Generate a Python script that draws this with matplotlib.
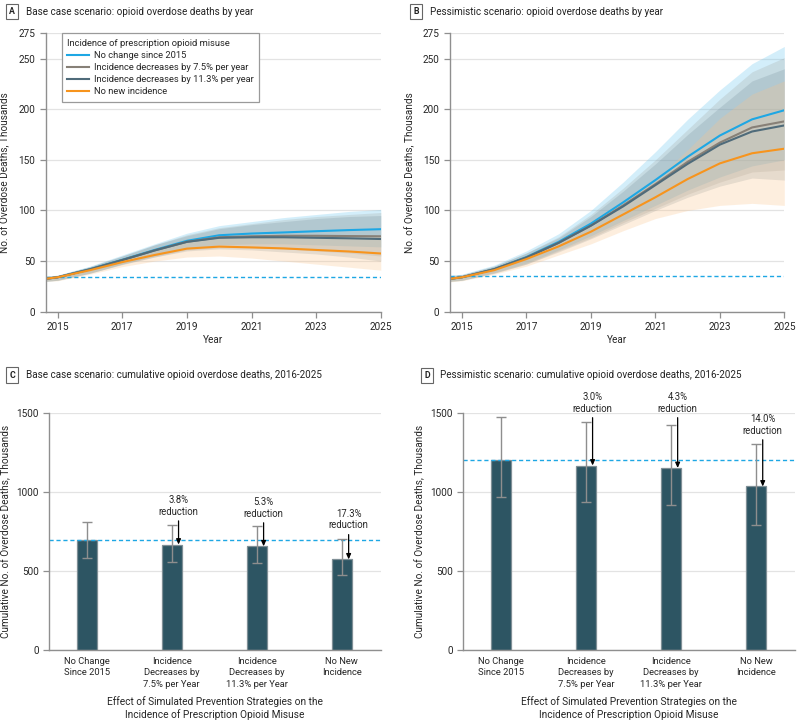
import matplotlib
matplotlib.use('Agg')
import matplotlib.pyplot as plt
from matplotlib.font_manager import FontProperties
from matplotlib.lines import Line2D

FAM = 'Roboto'
plt.rcParams['font.family'] = [FAM, 'DejaVu Sans']

# ---------------- data ----------------
years = [2014.63, 2015, 2016, 2017, 2018, 2019, 2020, 2021, 2022, 2023, 2024, 2025]
series_names = ['No change since 2015', 'Incidence decreases by 7.5% per year',
                'Incidence decreases by 11.3% per year', 'No new incidence']

# Panel A: base case, annual deaths (thousands)
a_none = [32.5, 34, 42, 51.3, 61, 70, 75.5, 77.2, 78.3, 79.5, 80.6, 81.5]
a_75 = [32.5, 34, 41.8, 51, 60.5, 69, 73.5, 74.5, 75, 75, 74.7, 74.5]
a_113 = [32.5, 34, 41.8, 51, 60.5, 69, 73, 73.5, 73.5, 73, 72.5, 71.8]
a_zero = [32.5, 34, 41, 49, 56, 62.3, 64.3, 63.5, 62.5, 61, 59.5, 57.5]
a_none_hi = [35, 36, 45, 56, 67, 77.5, 85, 89, 93, 96, 99, 101]
a_none_lo = [30, 31, 38, 47, 55, 62, 66, 67, 67, 66, 65, 64]
a_75_hi = [35, 36, 44.5, 55, 66, 76, 83, 87, 91, 94, 96, 98]
a_75_lo = [30, 31, 38, 47, 54, 61, 63, 63, 62, 60, 58, 55]
a_113_hi = [35, 36, 44.5, 55, 66, 75, 82, 86, 89, 92, 94, 95]
a_113_lo = [30, 31, 38, 46.5, 54, 60, 62, 61, 59, 57, 54, 50]
a_zero_hi = [34.5, 35.5, 43, 52, 62, 69, 73, 75, 76, 76, 76, 75]
a_zero_lo = [30, 30.5, 37, 44.5, 50, 54, 55, 53, 50, 47, 44, 41]
a_baseline = 34.3

# Panel B: pessimistic, annual deaths (thousands)
b_none = [32.5, 34, 42, 54, 69, 87, 108, 130, 153, 174, 190, 199]
b_75 = [32.5, 34, 42, 53.5, 68, 85, 105, 126, 148, 167, 182, 188]
b_113 = [32.5, 34, 42, 53.5, 68, 85, 104, 125, 146, 165, 178, 184]
b_zero = [32.5, 34, 41, 52, 64.5, 79, 96, 113, 131, 146.5, 156.5, 161]
b_none_hi = [36, 37, 46, 60, 77, 100, 128, 158, 190, 219, 245, 262]
b_none_lo = [30, 31, 38.5, 48, 61, 75, 90, 105, 120, 133, 144, 150]
b_75_hi = [35.5, 36.5, 45, 58, 74, 96, 122, 150, 180, 210, 237, 251]
b_75_lo = [30, 31, 38, 47, 60, 73, 88, 102, 116, 128, 138, 140]
b_113_hi = [35.5, 36.5, 45, 58, 73, 94, 119, 146, 175, 202, 228, 240]
b_113_lo = [30, 31, 38, 47, 59, 72, 86, 100, 113, 124, 132, 130]
b_zero_hi = [35, 36, 44, 56, 70, 88, 108, 130, 160, 191, 215, 228]
b_zero_lo = [29.5, 30.5, 37, 45, 56, 67, 80, 92, 100, 105, 107, 105]
b_baseline = 35.0

# Panels C, D: cumulative deaths 2016-2025 (thousands)
bar_labels = ['No Change\nSince 2015', 'Incidence\nDecreases by\n7.5% per Year',
              'Incidence\nDecreases by\n11.3% per Year', 'No New\nIncidence']
c_vals = [694, 668, 657, 574]
c_lo = [586, 555, 549, 475]
c_hi = [808, 789, 783, 703]
c_red = ['', '3.8%\nreduction', '5.3%\nreduction', '17.3%\nreduction']
c_red_y = [0, 913, 901, 826]
d_vals = [1205, 1169, 1153, 1036]
d_lo = [970, 937, 920, 795]
d_hi = [1475, 1445, 1428, 1308]
d_red = ['', '3.0%\nreduction', '4.3%\nreduction', '14.0%\nreduction']
d_red_y = [0, 1567, 1567, 1427]

# ---------------- style ----------------
BLUE = '#1ea7e4'
GRAY = '#878077'
SLATE = '#4f6b7a'
ORANGE = '#f7941d'
BAR = '#2d5563'
AXC = '#8f8f8f'
TXT = '#262626'

line_colors = [BLUE, GRAY, SLATE, ORANGE]
band_colors = ['#63c3ee', '#9a9890', '#6f8794', '#fbc48a']
band_alpha = [0.28, 0.22, 0.22, 0.28]

fig = plt.figure(figsize=(8, 7.21), dpi=100)
renderer = fig.canvas.get_renderer()


def fsize(s, target_px, base=10.0):
    fp = FontProperties(family=[FAM, 'DejaVu Sans'], size=base)
    w, _, _ = renderer.get_text_width_height_descent(s, fp, ismath=False)
    return base * target_px / w


TITLE_FS = fsize('Base case scenario: opioid overdose deaths by year', 227)
YLAB_FS = 0.5 * (fsize('No. of Overdose Deaths, Thousands', 158) +
                 fsize('Cumulative No. of Overdose Deaths, Thousands', 212))
LEG_FS = fsize('Incidence decreases by 11.3% per year', 161)
TICK_FS = fsize('1500', 22.3)
CAT_FS = fsize('11.3% per Year', 62)
XLAB_FS = fsize('Effect of Simulated Prevention Strategies on the', 217)
RED_FS = fsize('reduction', 40)

axA = fig.add_axes([0.0571, 0.5677, 0.4189, 0.3861])
axB = fig.add_axes([0.5625, 0.5677, 0.4179, 0.3861])
axC = fig.add_axes([0.0616, 0.0985, 0.4146, 0.3283])
axD = fig.add_axes([0.5791, 0.0985, 0.4147, 0.3283])


def style(ax):
    for s in ['top', 'right']:
        ax.spines[s].set_visible(False)
    for s in ['left', 'bottom']:
        ax.spines[s].set_color(AXC)
        ax.spines[s].set_linewidth(1.0)
    ax.tick_params(colors=AXC, labelcolor=TXT, labelsize=TICK_FS, length=4, width=0.9)
    ax.yaxis.grid(True, color='#e3e3e3', linewidth=0.9)
    ax.set_axisbelow(True)


def line_panel(ax, lines, bands, baseline, label_x):
    style(ax)
    for (lo, hi), c, a in zip(bands, band_colors, band_alpha):
        ax.fill_between(years, lo, hi, color=c, alpha=a, linewidth=0)
    ax.plot([years[0], years[-1]], [baseline, baseline], color=BLUE,
            linestyle=(0, (3, 2)), linewidth=1.0)
    for vals, c in zip(lines, line_colors):
        ax.plot(years, vals, color=c, linewidth=1.5)
    ax.set_xlim(years[0], 2025)
    ax.set_ylim(0, 275)
    ax.set_xticks([2015, 2017, 2019, 2021, 2023, 2025])
    ax.set_yticks([0, 50, 100, 150, 200, 250, 275])
    ax.set_xlabel('Year', fontsize=YLAB_FS, color=TXT)
    ax.xaxis.set_label_coords(0.5, -0.10)
    ax.xaxis.label.set_va('center')
    ax.set_ylabel('No. of Overdose Deaths, Thousands', fontsize=YLAB_FS, color=TXT)
    ax.yaxis.set_label_coords(label_x, 0.5)


line_panel(axA, [a_none, a_75, a_113, a_zero],
           [(a_none_lo, a_none_hi), (a_75_lo, a_75_hi), (a_113_lo, a_113_hi), (a_zero_lo, a_zero_hi)],
           a_baseline, -0.106)
line_panel(axB, [b_none, b_75, b_113, b_zero],
           [(b_none_lo, b_none_hi), (b_75_lo, b_75_hi), (b_113_lo, b_113_hi), (b_zero_lo, b_zero_hi)],
           b_baseline, -0.105)

handles = [Line2D([0], [0], color=c, linewidth=1.5) for c in line_colors]
leg = axA.legend(handles, series_names, title='Incidence of prescription opioid misuse',
                 loc='upper left', bbox_to_anchor=(0.048, 1.0), borderaxespad=0,
                 fontsize=LEG_FS, title_fontsize=LEG_FS, frameon=True, fancybox=False,
                 edgecolor='#9a9a9a', framealpha=1, handlelength=2.3, handletextpad=0.5,
                 labelspacing=0.32, borderpad=0.6, alignment='left')
leg.get_frame().set_linewidth(0.9)
for t in leg.get_texts():
    t.set_color(TXT)
leg.get_title().set_color(TXT)


def bar_panel(ax, vals, lo, hi, reds, red_y, label_x):
    style(ax)
    x = list(range(len(vals)))
    ax.bar(x, vals, width=0.234, color=BAR, edgecolor='#7f8f96', linewidth=0.9, zorder=2)
    yerr = [[v - l for v, l in zip(vals, lo)], [h - v for v, h in zip(vals, hi)]]
    ax.errorbar(x, vals, yerr=yerr, fmt='none', ecolor='#8e8e8e', elinewidth=1.0,
                capsize=3.6, capthick=1.0, zorder=3)
    ax.axhline(vals[0], color=BLUE, linestyle=(0, (3, 2)), linewidth=1.0, zorder=2.5)
    for i in range(1, len(vals)):
        ax.annotate(reds[i], xy=(i + 0.08, vals[i]), xytext=(i + 0.08, red_y[i]),
                    ha='center', va='center', fontsize=RED_FS, color=TXT,
                    linespacing=1.2, annotation_clip=False,
                    arrowprops=dict(arrowstyle='-|>,head_length=0.45,head_width=0.2',
                                    color='black', lw=0.9, shrinkA=1, shrinkB=0),
                    zorder=4)
    ax.set_xlim(-0.44, 3.46)
    ax.set_ylim(0, 1500)
    ax.set_yticks([0, 500, 1000, 1500])
    ax.set_xticks(x)
    ax.set_xticklabels(bar_labels, fontsize=CAT_FS, color=TXT, linespacing=1.35)
    ax.tick_params(axis='x', length=0, pad=5)
    ax.set_xlabel('Effect of Simulated Prevention Strategies on the\nIncidence of Prescription Opioid Misuse',
                  fontsize=XLAB_FS, color=TXT, linespacing=1.15)
    ax.xaxis.set_label_coords(0.5, -0.245)
    ax.xaxis.label.set_va('center')
    ax.set_ylabel('Cumulative No. of Overdose Deaths, Thousands', fontsize=YLAB_FS, color=TXT)
    ax.yaxis.set_label_coords(label_x, 0.5)


bar_panel(axC, c_vals, c_lo, c_hi, c_red, c_red_y, -0.115)
bar_panel(axD, d_vals, d_lo, d_hi, d_red, d_red_y, -0.115)

# ---------------- panel titles ----------------
W, H = 800.0, 721.0
titles = [
    ('A', 12, 11.7, 26, 'Base case scenario: opioid overdose deaths by year'),
    ('B', 416, 11.7, 430, 'Pessimistic scenario: opioid overdose deaths by year'),
    ('C', 12, 375, 26, 'Base case scenario: cumulative opioid overdose deaths, 2016-2025'),
    ('D', 427, 375.5, 440, 'Pessimistic scenario: cumulative opioid overdose deaths, 2016-2025'),
]
for letter, bx, by, tx, text in titles:
    fig.text(bx / W, 1 - by / H, letter, ha='center', va='center', fontsize=6.3,
             fontweight='bold', color='#222222',
             bbox=dict(boxstyle='square,pad=0.35', fc='white', ec='#666666', lw=0.8))
    fig.text(tx / W, 1 - by / H, text, ha='left', va='center', fontsize=TITLE_FS, color='#222222')

fig.savefig('out.png', dpi=100)
